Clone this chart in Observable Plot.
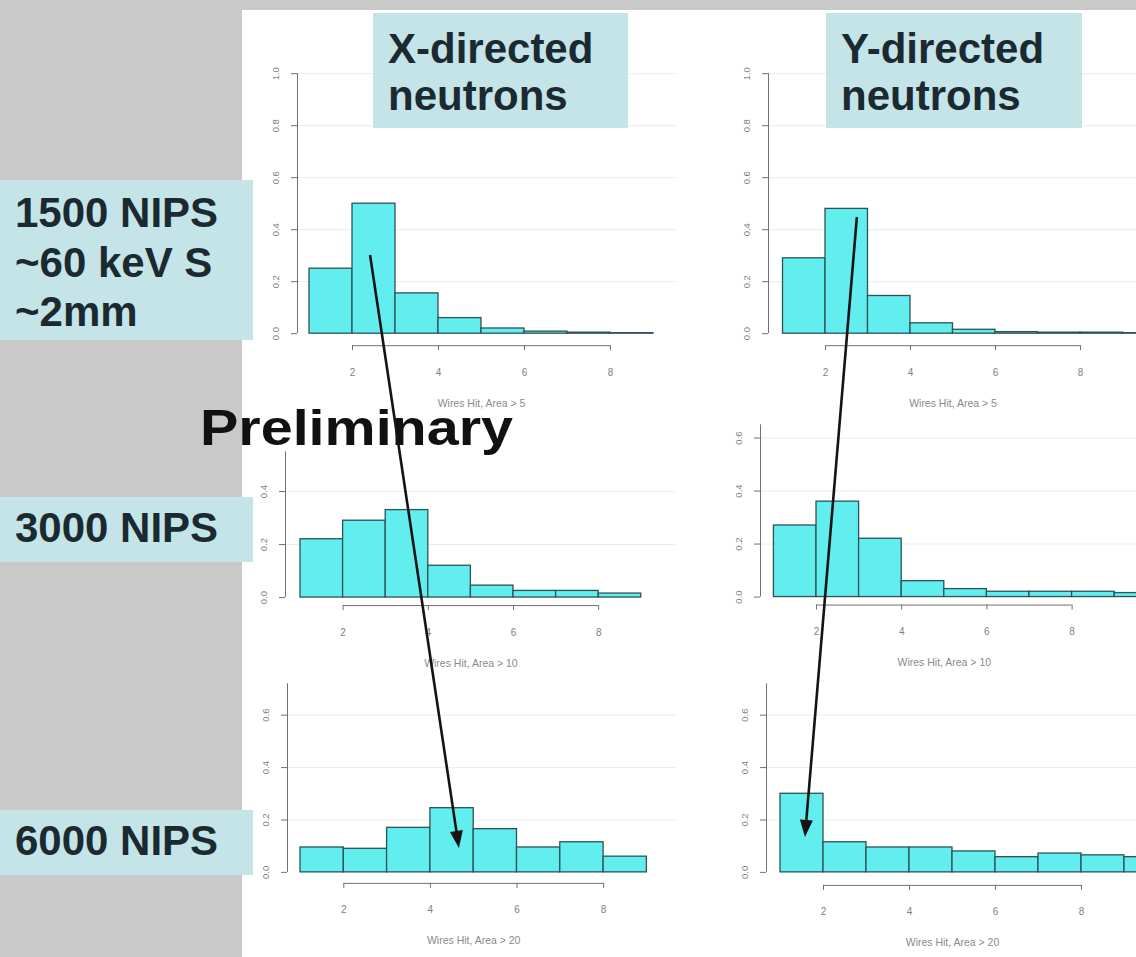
<!DOCTYPE html>
<html>
<head>
<meta charset="utf-8">
<script src="https://cdn.jsdelivr.net/npm/d3@7"></script>
<script src="https://cdn.jsdelivr.net/npm/@observablehq/plot@0.6"></script>
<style>
  html, body { margin: 0; padding: 0; background: #c9c9c9; }
  #slide { position: relative; width: 1136px; height: 957px; overflow: hidden; background: #c9c9c9; }
  #sheet { position: absolute; left: 242px; top: 10px; right: 0; bottom: 0; background: #ffffff; }
  #slide svg.panel, #slide svg.overlay { position: absolute; }
</style>
</head>
<body>
<div id="slide"><div id="sheet"></div></div>
<script>
// ---- text ----
const rowLabels = [["1500 NIPS", "~60 keV S", "~2mm"], ["3000 NIPS"], ["6000 NIPS"]];
const columnLabels = [["X-directed", "neutrons"], ["Y-directed", "neutrons"]];
const axisTitles = ["Wires Hit, Area > 5", "Wires Hit, Area > 10", "Wires Hit, Area > 20"];
const stamp = "Preliminary";

// ---- histogram data: fraction of events per wires-hit bin, bins start at 1 ----
const binStart = 1;
const xTicks = [2, 4, 6, 8];
const yTicksFull = [0, 0.2, 0.4, 0.6, 0.8, 1.0];
const yTicksMid = [0, 0.2, 0.4];
const yTicksLow = [0, 0.2, 0.4, 0.6];

const xDirArea5  = [0.25, 0.50, 0.155, 0.06, 0.02, 0.008, 0.004, 0.002];
const yDirArea5  = [0.29, 0.48, 0.145, 0.04, 0.015, 0.006, 0.004, 0.004, 0.002];
const xDirArea10 = [0.22, 0.29, 0.33, 0.12, 0.045, 0.025, 0.025, 0.015];
const yDirArea10 = [0.27, 0.36, 0.22, 0.06, 0.03, 0.02, 0.02, 0.02, 0.015];
const xDirArea20 = [0.095, 0.09, 0.17, 0.245, 0.165, 0.095, 0.115, 0.06];
const yDirArea20 = [0.30, 0.115, 0.095, 0.095, 0.08, 0.058, 0.072, 0.065, 0.058];

// arrow anchors in each panel's own data coordinates [wires hit, fraction]
const arrowX = {from: ["xa5", 2.42, 0.30], to: ["xa20", 4.67, 0.092]};
const arrowY = {from: ["ya5", 2.75, 0.446], to: ["ya20", 1.58, 0.134]};

// ---- layout ----
const FONT = "'Liberation Sans', Arial, Helvetica, sans-serif";
const BAR_FILL = "#62eeee";
const BAR_STROKE = "#2d5257";
const AXIS_INK = "#707070";

// axisX / axisY: page position of the axis lines; x1px: page x of the first bin edge;
// y0px: page y of zero; kx, ky: pixels per unit
const panels = [
  {id: "xa5",  values: xDirArea5,  title: axisTitles[0], yTicks: yTicksFull, lineTop: 1.0,
   axisX: 297, x1px: 309,   kx: 43,   axisY: 345, y0px: 333, ky: 260, width: 380},
  {id: "ya5",  values: yDirArea5,  title: axisTitles[0], yTicks: yTicksFull, lineTop: 1.0,
   axisX: 768, x1px: 782.5, kx: 42.5, axisY: 345, y0px: 333, ky: 260, width: 420},
  {id: "xa10", values: xDirArea10, title: axisTitles[1], yTicks: yTicksMid,  lineTop: 0.55,
   axisX: 285, x1px: 300,   kx: 42.6, axisY: 605, y0px: 597, ky: 265, width: 390},
  {id: "ya10", values: yDirArea10, title: axisTitles[1], yTicks: yTicksLow,  lineTop: 0.65,
   axisX: 760, x1px: 773.4, kx: 42.6, axisY: 605, y0px: 597, ky: 265, width: 420},
  {id: "xa20", values: xDirArea20, title: axisTitles[2], yTicks: yTicksLow,  lineTop: 0.72,
   axisX: 287, x1px: 300,   kx: 43.3, axisY: 883, y0px: 872, ky: 262, width: 390},
  {id: "ya20", values: yDirArea20, title: axisTitles[2], yTicks: yTicksLow,  lineTop: 0.72,
   axisX: 766, x1px: 780,   kx: 43,   axisY: 885, y0px: 872, ky: 262, width: 420}
];

const slide = document.getElementById("slide");
const placed = {};

function drawPanel(p) {
  const mL = 44, mT = 6, mB = 74;
  const xd0 = binStart - (p.x1px - p.axisX) / p.kx;
  const xd1 = xd0 + p.width / p.kx;
  const yd0 = -(p.axisY - p.y0px) / p.ky;
  const yd1 = p.lineTop + 0.02;
  const topPx = p.y0px - yd1 * p.ky;
  const h = p.axisY - topPx;
  const bins = p.values.map((v, i) => ({x1: binStart + i, x2: binStart + i + 1, y1: 0, y2: v}));

  const fig = Plot.plot({
    width: mL + p.width,
    height: mT + h + mB,
    marginLeft: mL, marginRight: 0, marginTop: mT, marginBottom: mB,
    x: {domain: [xd0, xd1]},
    y: {domain: [yd0, yd1]},
    style: {background: "transparent", fontFamily: FONT, overflow: "visible"},
    marks: [
      Plot.ruleY(p.yTicks.slice(1), {x1: xd0, x2: xd1, stroke: "#ececec", strokeWidth: 1}),
      Plot.rect(bins, {x1: "x1", x2: "x2", y1: "y1", y2: "y2",
        fill: BAR_FILL, stroke: BAR_STROKE, strokeWidth: 1.3}),
      Plot.ruleX([xd0], {y1: 0, y2: p.lineTop, stroke: AXIS_INK, strokeWidth: 1}),
      Plot.axisY({ticks: p.yTicks, tickSize: 6, tickPadding: 13, tickRotate: -90,
        tickFormat: d3.format(".1f"), fontSize: 9.5, stroke: AXIS_INK, fill: "#808080", label: null}),
      Plot.ruleY([yd0], {x1: xTicks[0], x2: xTicks[xTicks.length - 1], stroke: AXIS_INK, strokeWidth: 1}),
      Plot.axisX({ticks: xTicks, tickSize: 5, tickPadding: 18, tickFormat: d3.format("d"),
        fontSize: 10, stroke: AXIS_INK, fill: "#808080", label: null}),
      Plot.text([p.title], {x: (xTicks[0] + xTicks[xTicks.length - 1]) / 2, frameAnchor: "bottom",
        dy: 61, text: d => d, fontSize: 10.5, fill: "#8a8a8a"})
    ]
  });
  fig.classList.add("panel");
  const left = p.axisX - mL;
  const top = topPx - mT;
  fig.style.left = left + "px";
  fig.style.top = top + "px";
  slide.appendChild(fig);
  placed[p.id] = {fig, left, top};
}

panels.forEach(drawPanel);

// ---- labels, stamp and arrows drawn above the panels ----
const overlay = d3.select(slide).append("svg")
  .attr("class", "overlay")
  .attr("width", 1136).attr("height", 957)
  .style("left", "0px").style("top", "0px");

const BOX_FILL = "#c4e4e8";
const LABEL_INK = "#1b2a30";

const rowBoxes = [
  {top: 180, height: 160, baseline: 227},
  {top: 497, height: 65, baseline: 542},
  {top: 810, height: 65, baseline: 855}
];
rowLabels.forEach((lines, i) => {
  const b = rowBoxes[i];
  overlay.append("rect").attr("x", 0).attr("y", b.top).attr("width", 253).attr("height", b.height)
    .attr("fill", BOX_FILL);
  lines.forEach((line, j) => {
    overlay.append("text").attr("x", 15).attr("y", b.baseline + j * 49.5)
      .attr("font-family", FONT).attr("font-weight", "bold").attr("font-size", 42)
      .attr("fill", LABEL_INK).text(line);
  });
});

const colBoxes = [{left: 373, width: 255}, {left: 826, width: 256}];
columnLabels.forEach((lines, i) => {
  const b = colBoxes[i];
  overlay.append("rect").attr("x", b.left).attr("y", 13).attr("width", b.width).attr("height", 115)
    .attr("fill", BOX_FILL);
  lines.forEach((line, j) => {
    overlay.append("text").attr("x", b.left + 15).attr("y", 63 + j * 47)
      .attr("font-family", FONT).attr("font-weight", "bold").attr("font-size", 42)
      .attr("fill", LABEL_INK).text(line);
  });
});

overlay.append("text").attr("x", 200).attr("y", 445)
  .attr("font-family", FONT).attr("font-weight", "bold").attr("font-size", 50)
  .attr("textLength", 313).attr("lengthAdjust", "spacingAndGlyphs")
  .attr("fill", "#111").text(stamp);

function toPage([id, x, y]) {
  const {fig, left, top} = placed[id];
  return [left + fig.scale("x").apply(x), top + fig.scale("y").apply(y)];
}

function drawArrow(a) {
  const [x0, y0] = toPage(a.from);
  const [x1, y1] = toPage(a.to);
  const ang = Math.atan2(y1 - y0, x1 - x0);
  const len = 17, half = 6.5;
  const bx = x1 - len * Math.cos(ang), by = y1 - len * Math.sin(ang);
  overlay.append("line").attr("x1", x0).attr("y1", y0).attr("x2", bx).attr("y2", by)
    .attr("stroke", "#141414").attr("stroke-width", 2.6);
  const nx = -Math.sin(ang), ny = Math.cos(ang);
  overlay.append("path")
    .attr("d", `M${x1},${y1}L${bx + nx * half},${by + ny * half}L${bx - nx * half},${by - ny * half}Z`)
    .attr("fill", "#141414");
}
drawArrow(arrowX);
drawArrow(arrowY);
</script>
</body>
</html>
